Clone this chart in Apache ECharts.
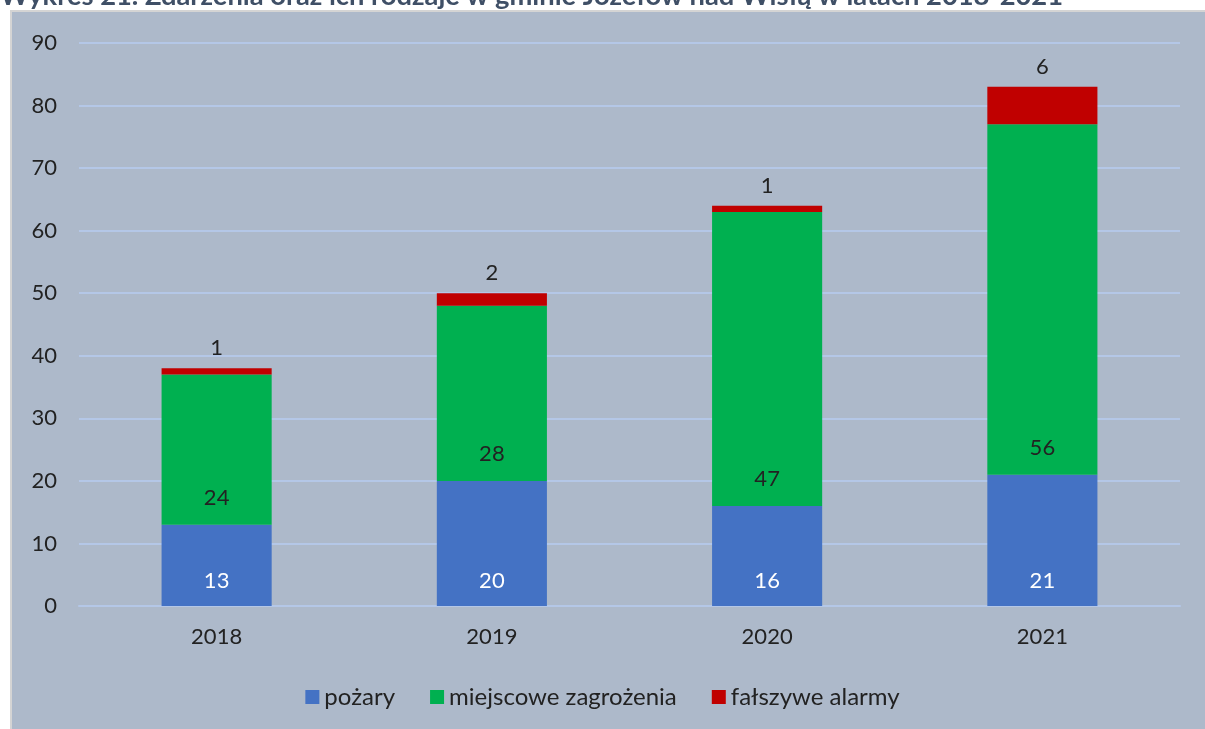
<!DOCTYPE html>
<html>
<head>
<meta charset="utf-8">
<style>
  html, body { margin: 0; padding: 0; background: #fff; }
  #chart { width: 1205px; height: 729px; }
</style>
</head>
<body>
<div id="chart"></div>
<script src="https://cdn.jsdelivr.net/npm/echarts@6/dist/echarts.min.js"></script>
<script>
var years = ['2018', '2019', '2020', '2021'];
var pozary = [13, 20, 16, 21];
var miejscowe = [24, 28, 47, 56];
var falszywe = [1, 2, 1, 6];
var seriesNames = ['pożary', 'miejscowe zagrożenia', 'fałszywe alarmy'];
var colors = ['#4472C4', '#00B050', '#C00000'];

var font = 'Lato, "Noto Sans", sans-serif';
var myChart = echarts.init(document.getElementById('chart'));

var option = {
  backgroundColor: '#fff',
  animation: false,
  title: {
    text: 'Wykres 21. Zdarzenia oraz ich rodzaje w gminie Józefów nad Wisłą w latach 2018-2021',
    left: 0,
    top: -17,
    padding: 0,
    textStyle: { color: '#3F4F66', fontSize: 27.3, fontWeight: 'bold', fontFamily: font }
  },
  graphic: [{
    type: 'rect',
    z: -10,
    shape: { x: 11, y: 11, width: 1200, height: 725 },
    style: { fill: '#ADB9CA', stroke: '#D4D4D4', lineWidth: 2 }
  }],
  legend: {
    data: seriesNames,
    top: 680,
    left: 'center',
    itemWidth: 14,
    itemHeight: 14,
    itemGap: 35,
    icon: 'rect',
    textStyle: { color: '#222', fontSize: 24, fontFamily: font }
  },
  grid: { left: 79, right: 25, top: 43, bottom: 123, containLabel: false },
  xAxis: {
    type: 'category',
    data: years,
    axisLine: { show: true, lineStyle: { color: '#B4C7E7', width: 2 } },
    axisTick: { show: false },
    axisLabel: { color: '#222', fontSize: 22, margin: 20, fontFamily: font }
  },
  yAxis: {
    type: 'value',
    min: 0,
    max: 90,
    interval: 10,
    axisLine: { show: false },
    axisTick: { show: false },
    splitLine: { lineStyle: { color: '#B4C7E7', width: 2 } },
    axisLabel: { color: '#222', fontSize: 22, margin: 22, fontFamily: font }
  },
  series: [
    {
      name: seriesNames[0], type: 'bar', stack: 'a', data: pozary, barWidth: '40%',
      itemStyle: { color: colors[0] },
      label: { show: true, position: 'insideBottom', distance: 14, color: '#fff', fontSize: 22, fontFamily: font }
    },
    {
      name: seriesNames[1], type: 'bar', stack: 'a', data: miejscowe,
      itemStyle: { color: colors[1] },
      label: { show: true, position: 'insideBottom', distance: 16, color: '#222', fontSize: 22, fontFamily: font }
    },
    {
      name: seriesNames[2], type: 'bar', stack: 'a', data: falszywe,
      itemStyle: { color: colors[2] },
      label: { show: true, position: 'top', distance: 9, color: '#222', fontSize: 22, fontFamily: font }
    }
  ]
};
myChart.setOption(option);
</script>
</body>
</html>
